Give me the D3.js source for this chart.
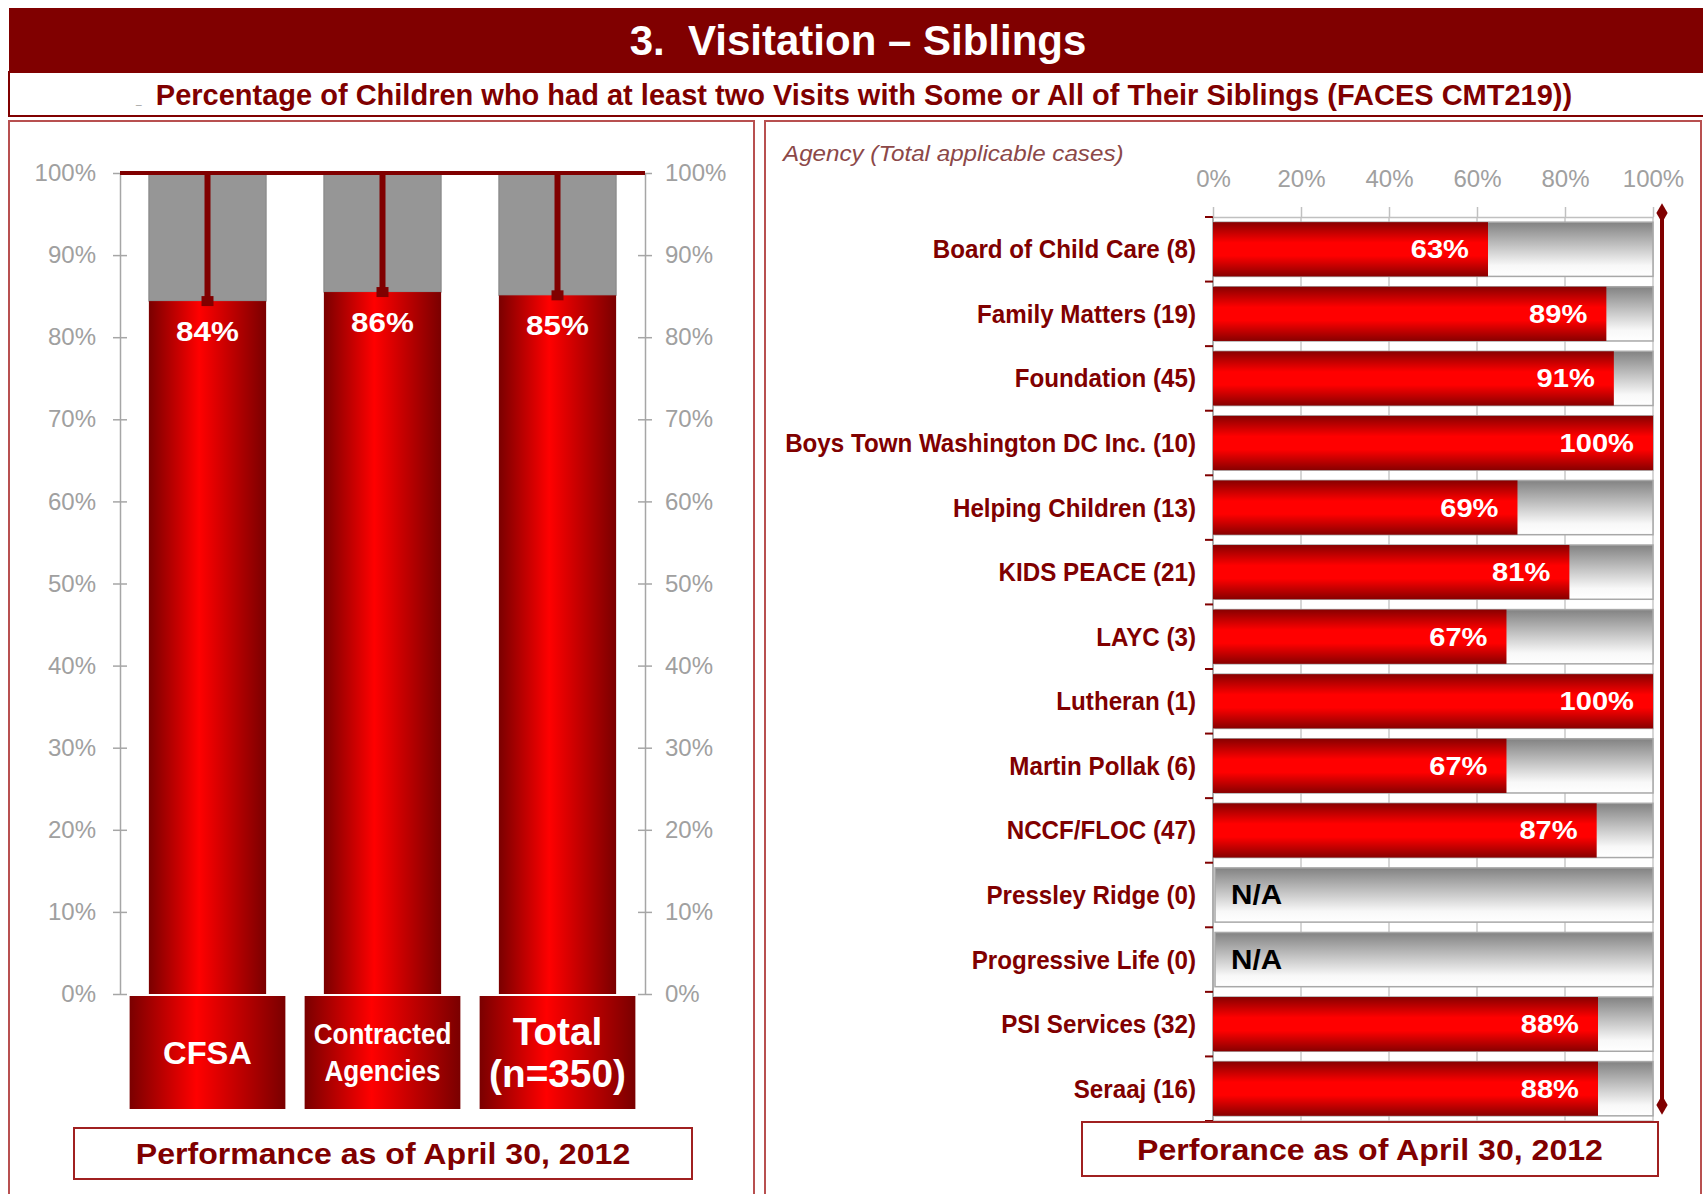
<!DOCTYPE html>
<html>
<head>
<meta charset="utf-8">
<script src="https://cdn.jsdelivr.net/npm/d3@7"></script>
<style>
  body { margin: 0; background: #fff; }
  svg { display: block; font-family: "Liberation Sans", Arial, sans-serif; }
</style>
</head>
<body>
<div id="chart"></div>
<script>
// ---- data ----
var leftCats = ["CFSA", "Contracted Agencies", "Total (n=350)"];
var leftVals = [0.844, 0.855, 0.851];
var leftCatLines = [["CFSA"], ["Contracted", "Agencies"], ["Total", "(n=350)"]];
var leftTicks = [0, 0.1, 0.2, 0.3, 0.4, 0.5, 0.6, 0.7, 0.8, 0.9, 1];

var agencies = ["Board of Child Care", "Family Matters", "Foundation", "Boys Town Washington DC Inc.",
  "Helping Children", "KIDS PEACE", "LAYC", "Lutheran", "Martin Pollak", "NCCF/FLOC",
  "Pressley Ridge", "Progressive Life", "PSI Services", "Seraaj"];
var agencyCases = [8, 19, 45, 10, 13, 21, 3, 1, 6, 47, 0, 0, 32, 16];
var agencyVals = [0.625, 0.894, 0.911, 1, 0.692, 0.81, 0.667, 1, 0.667, 0.872, null, null, 0.875, 0.875];
var rightTicks = [0, 0.2, 0.4, 0.6, 0.8, 1];
var target = 1;

var W = 1703, H = 1194;
var dark = "#800000";
var pct = d3.format(".0%");

// stretch / squeeze text horizontally around its anchor
function hscale(sel, k) {
  sel.each(function () {
    var t = d3.select(this);
    var x = t.attr("x") != null ? +t.attr("x") : +t.select("tspan").attr("x");
    t.attr("transform", "translate(" + x + ",0) scale(" + k + ",1) translate(" + (-x) + ",0)");
  });
}

var svg = d3.select("#chart").append("svg")
  .attr("width", W).attr("height", H);

// gradients
var defs = svg.append("defs");
var gH = defs.append("linearGradient").attr("id", "redH").attr("x1", 0).attr("x2", 1).attr("y1", 0).attr("y2", 0);
gH.append("stop").attr("offset", 0).attr("stop-color", "#7a0000");
gH.append("stop").attr("offset", 0.43).attr("stop-color", "#ff0000");
gH.append("stop").attr("offset", 1).attr("stop-color", "#7a0000");

var gV = defs.append("linearGradient").attr("id", "redV").attr("x1", 0).attr("x2", 0).attr("y1", 0).attr("y2", 1);
gV.append("stop").attr("offset", 0).attr("stop-color", "#880000");
gV.append("stop").attr("offset", 0.38).attr("stop-color", "#ff0000");
gV.append("stop").attr("offset", 0.62).attr("stop-color", "#ff0000");
gV.append("stop").attr("offset", 1).attr("stop-color", "#880000");

var gG = defs.append("linearGradient").attr("id", "grayV").attr("x1", 0).attr("x2", 0).attr("y1", 0).attr("y2", 1);
gG.append("stop").attr("offset", 0).attr("stop-color", "#828282");
gG.append("stop").attr("offset", 0.8).attr("stop-color", "#f8f8f8");
gG.append("stop").attr("offset", 1).attr("stop-color", "#ffffff");

// ---- header ----
svg.append("rect").attr("x", 9).attr("y", 8).attr("width", W - 9).attr("height", 64).attr("fill", dark);
svg.append("text").attr("x", 858).attr("y", 55).attr("text-anchor", "middle")
  .attr("fill", "#fff").attr("font-weight", "bold").attr("font-size", 42)
  .style("white-space", "pre")
  .text("3.  Visitation \u2013 Siblings");

svg.append("rect").attr("x", 9).attr("y", 72).attr("width", W).attr("height", 44)
  .attr("fill", "#fff").attr("stroke", dark).attr("stroke-width", 2);
svg.append("text").attr("x", 136).attr("y", 104).attr("fill", "#999").attr("font-size", 10).text("_");
svg.append("text").attr("x", 864).attr("y", 105).attr("text-anchor", "middle")
  .attr("fill", dark).attr("font-weight", "bold").attr("font-size", 29)
  .text("Percentage of Children who had at least two Visits with Some or All of Their Siblings (FACES CMT219))");

// panels
svg.append("rect").attr("x", 9).attr("y", 121).attr("width", 745).attr("height", 1090)
  .attr("fill", "none").attr("stroke", "#b85050").attr("stroke-width", 2);
svg.append("rect").attr("x", 765).attr("y", 121).attr("width", 936).attr("height", 1090)
  .attr("fill", "none").attr("stroke", "#b85050").attr("stroke-width", 2);

// ---- left chart ----
var yL = d3.scaleLinear().domain([0, 1]).range([994, 173]);
var xL = d3.scaleBand().domain(leftCats).range([120, 645]).padding(0);
var barW = xL.bandwidth() * 0.67;
var boxW = xL.bandwidth() * 0.89;

var axL = svg.append("g").attr("transform", "translate(" + xL.range()[0] + ",0)")
  .call(d3.axisLeft(yL).tickValues(leftTicks).tickFormat(pct).tickSizeInner(7).tickSizeOuter(0).tickPadding(17));
var axR = svg.append("g").attr("transform", "translate(" + xL.range()[1] + ",0)")
  .call(d3.axisRight(yL).tickValues(leftTicks).tickFormat(pct).tickSizeInner(7).tickSizeOuter(0).tickPadding(13));
[axL, axR].forEach(function (ax, i) {
  ax.select(".domain").attr("stroke", "#a6a6a6").attr("stroke-width", 1.5);
  ax.selectAll(".tick line").attr("stroke", "#a6a6a6").attr("stroke-width", 1.5)
    .attr("x2", i === 0 ? -7 : 7);
  ax.selectAll(".tick").append("line").attr("x1", 0).attr("x2", i === 0 ? 7 : -7)
    .attr("stroke", "#a6a6a6").attr("stroke-width", 1.5);
  ax.selectAll(".tick text").attr("fill", "#a0a0a0").attr("font-size", 24)
    .attr("font-family", "Liberation Sans, Arial, sans-serif");
});

var lg = svg.append("g");
// gray remainder
lg.selectAll(".rest").data(leftCats).enter().append("rect")
  .attr("x", function (d) { return xL(d) + (xL.bandwidth() - barW) / 2; })
  .attr("y", yL(1))
  .attr("width", barW)
  .attr("height", function (d, i) { return yL(leftVals[i]) - yL(1); })
  .attr("fill", "#969696").attr("stroke", "#858585").attr("stroke-width", 1);
// red bars
lg.selectAll(".bar").data(leftCats).enter().append("rect")
  .attr("x", function (d) { return xL(d) + (xL.bandwidth() - barW) / 2; })
  .attr("y", function (d, i) { return yL(leftVals[i]); })
  .attr("width", barW)
  .attr("height", function (d, i) { return yL(0) - yL(leftVals[i]); })
  .attr("fill", "url(#redH)");
// 100% line
lg.append("line").attr("x1", xL.range()[0]).attr("x2", xL.range()[1])
  .attr("y1", yL(1)).attr("y2", yL(1)).attr("stroke", dark).attr("stroke-width", 4);
// stems from target
lg.selectAll(".stem").data(leftCats).enter().append("line")
  .attr("x1", function (d) { return xL(d) + xL.bandwidth() / 2; })
  .attr("x2", function (d) { return xL(d) + xL.bandwidth() / 2; })
  .attr("y1", yL(1))
  .attr("y2", function (d, i) { return yL(leftVals[i]); })
  .attr("stroke", dark).attr("stroke-width", 6);
lg.selectAll(".mk").data(leftCats).enter().append("rect")
  .attr("x", function (d) { return xL(d) + xL.bandwidth() / 2 - 6; })
  .attr("y", function (d, i) { return yL(leftVals[i]) - 5; })
  .attr("width", 12).attr("height", 10).attr("fill", dark);
// value labels
lg.selectAll(".val").data(leftCats).enter().append("text")
  .attr("x", function (d) { return xL(d) + xL.bandwidth() / 2; })
  .attr("y", function (d, i) { return yL(leftVals[i]) + 40; })
  .attr("text-anchor", "middle").attr("fill", "#fff").attr("font-weight", "bold").attr("font-size", 28)
  .text(function (d, i) { return pct(leftVals[i]); })
  .call(hscale, 1.12);

// category boxes under the bars
var boxTop = yL(0) + 2, boxH = 113;
lg.selectAll(".box").data(leftCats).enter().append("rect")
  .attr("x", function (d) { return xL(d) + (xL.bandwidth() - boxW) / 2; })
  .attr("y", boxTop).attr("width", boxW).attr("height", boxH)
  .attr("fill", "url(#redH)");
var catStyle = [
  { size: 32, lh: 0, k: 1.02 },
  { size: 29, lh: 37, k: 0.9 },
  { size: 38, lh: 42, k: 1.02 }
];
leftCats.forEach(function (c, i) {
  var lines = leftCatLines[i], st = catStyle[i];
  var cy = boxTop + boxH / 2;
  var t = lg.append("text")
    .attr("text-anchor", "middle").attr("fill", "#fff").attr("font-weight", "bold")
    .attr("font-size", st.size);
  lines.forEach(function (ln, j) {
    t.append("tspan").attr("x", xL(c) + xL.bandwidth() / 2)
      .attr("y", cy + (j - (lines.length - 1) / 2) * st.lh + st.size * 0.36)
      .text(ln);
  });
  t.call(hscale, st.k);
});

svg.append("rect").attr("x", 74).attr("y", 1128).attr("width", 618).attr("height", 51)
  .attr("fill", "#fff").attr("stroke", "#a02020").attr("stroke-width", 2);
svg.append("text").attr("x", 383).attr("y", 1164).attr("text-anchor", "middle")
  .attr("fill", dark).attr("font-weight", "bold").attr("font-size", 30)
  .text("Performance as of April 30, 2012")
  .call(hscale, 1.07);

// ---- right chart ----
var xR = d3.scaleLinear().domain([0, 1]).range([1213, 1653]);
var yR = d3.scaleBand().domain(agencies).range([217, 1121]).paddingInner(0.16).paddingOuter(0.08);

svg.append("text").attr("x", 783).attr("y", 161)
  .attr("fill", "#8c4848").attr("font-style", "italic").attr("font-size", 22)
  .text("Agency (Total applicable cases)")
  .call(hscale, 1.1);

var rg = svg.append("g");
// grid
rg.selectAll(".grid").data(rightTicks).enter().append("line")
  .attr("x1", function (d) { return xR(d); }).attr("x2", function (d) { return xR(d); })
  .attr("y1", yR.range()[0]).attr("y2", yR.range()[1])
  .attr("stroke", "#c8c8c8").attr("stroke-width", 1.5);
rg.append("line").attr("x1", xR(0)).attr("x2", xR(1)).attr("y1", yR.range()[1]).attr("y2", yR.range()[1])
  .attr("stroke", "#c8c8c8").attr("stroke-width", 1.5);

var axT = svg.append("g").attr("transform", "translate(0," + yR.range()[0] + ")")
  .call(d3.axisTop(xR).tickValues(rightTicks).tickFormat(pct).tickSizeInner(10).tickSizeOuter(0).tickPadding(20));
axT.select(".domain").attr("stroke", "#c0c0c0").attr("stroke-width", 1.5);
axT.selectAll(".tick line").attr("stroke", "#c0c0c0").attr("stroke-width", 1.5);
axT.selectAll(".tick text").attr("fill", "#a0a0a0").attr("font-size", 24)
  .attr("font-family", "Liberation Sans, Arial, sans-serif");

// category axis (left)
var step = yR.step();
rg.append("line").attr("x1", xR(0)).attr("x2", xR(0)).attr("y1", yR.range()[0]).attr("y2", yR.range()[1])
  .attr("stroke", "#a0a0a0").attr("stroke-width", 1.5);
rg.selectAll(".ctick").data(d3.range(agencies.length + 1)).enter().append("line")
  .attr("x1", xR(0) - 8).attr("x2", xR(0))
  .attr("y1", function (i) { return yR.range()[0] + i * step; })
  .attr("y2", function (i) { return yR.range()[0] + i * step; })
  .attr("stroke", dark).attr("stroke-width", 2);

// gray background bars
rg.selectAll(".bg").data(agencies).enter().append("rect")
  .attr("x", xR(0) + 2).attr("y", function (d) { return yR(d); })
  .attr("width", xR(1) - xR(0) - 2).attr("height", yR.bandwidth())
  .attr("fill", "url(#grayV)").attr("stroke", "#a8a8a8").attr("stroke-width", 1.5);
// red bars
rg.selectAll(".rbar").data(agencies).enter().append("rect")
  .attr("x", xR(0)).attr("y", function (d) { return yR(d); })
  .attr("width", function (d, i) { return agencyVals[i] == null ? 0 : xR(agencyVals[i]) - xR(0); })
  .attr("height", yR.bandwidth())
  .attr("fill", "url(#redV)");

// value labels
rg.selectAll(".rval").data(agencies).enter().append("text")
  .attr("x", function (d, i) { return agencyVals[i] == null ? xR(0) + 18 : xR(agencyVals[i]) - 19; })
  .attr("y", function (d) { return yR(d) + yR.bandwidth() / 2 + 9; })
  .attr("text-anchor", function (d, i) { return agencyVals[i] == null ? "start" : "end"; })
  .attr("fill", function (d, i) { return agencyVals[i] == null ? "#000" : "#fff"; })
  .attr("font-weight", "bold")
  .attr("font-size", function (d, i) { return agencyVals[i] == null ? 28 : 26; })
  .text(function (d, i) { return agencyVals[i] == null ? "N/A" : pct(agencyVals[i]); })
  .each(function (d, i) { d3.select(this).call(hscale, agencyVals[i] == null ? 1.06 : 1.12); });

// category labels
rg.selectAll(".clab").data(agencies).enter().append("text")
  .attr("x", 1196)
  .attr("y", function (d) { return yR(d) + yR.bandwidth() / 2 + 9; })
  .attr("text-anchor", "end").attr("fill", dark).attr("font-weight", "bold").attr("font-size", 26)
  .text(function (d, i) { return d + " (" + agencyCases[i] + ")"; })
  .call(hscale, 0.93);

// target line at 100%
var tx = xR(target) + 9, ty0 = yR.range()[0] - 4, ty1 = yR.range()[1] - 16;
rg.append("line").attr("x1", tx).attr("x2", tx).attr("y1", ty0).attr("y2", ty1)
  .attr("stroke", dark).attr("stroke-width", 4);
rg.selectAll(".dia").data([ty0, ty1]).enter().append("path")
  .attr("d", d3.symbol(d3.symbolDiamond, 110))
  .attr("transform", function (d) { return "translate(" + tx + "," + d + ")"; })
  .attr("fill", dark);

svg.append("rect").attr("x", 1082).attr("y", 1122).attr("width", 576).attr("height", 54)
  .attr("fill", "#fff").attr("stroke", "#a02020").attr("stroke-width", 2);
svg.append("text").attr("x", 1370).attr("y", 1160).attr("text-anchor", "middle")
  .attr("fill", dark).attr("font-weight", "bold").attr("font-size", 30)
  .text("Perforance as of April 30, 2012")
  .call(hscale, 1.07);
</script>
</body>
</html>
